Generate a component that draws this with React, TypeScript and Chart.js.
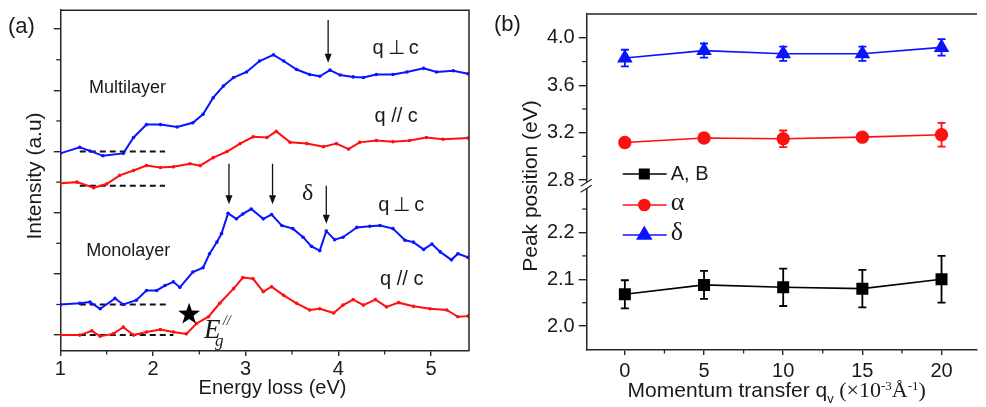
import React, { useEffect, useRef } from 'react';
import { Chart, registerables } from 'chart.js';

Chart.register(...registerables);

const SANS = '"Liberation Sans", Arial, sans-serif';
const SERIF = '"Liberation Serif", "Times New Roman", serif';
const AXIS = '#262626';
const TEXT = '#1a1a1a';
const BLUE = '#0a14ff';
const RED = '#ff1010';

// ---------------- Panel (a): EELS spectra ----------------
const mlPerpE = [1.00, 1.21, 1.32, 1.46, 1.68, 1.79, 1.93, 2.08, 2.26, 2.43, 2.54, 2.65, 2.76, 2.87, 3.01, 3.15, 3.30, 3.41, 3.55, 3.69, 3.80, 3.91, 4.02, 4.16, 4.27, 4.41, 4.59, 4.74, 4.92, 5.06, 5.24, 5.40];
const mlPerpI = [2.97, 3.07, 3.01, 2.93, 2.97, 3.23, 3.44, 3.44, 3.40, 3.47, 3.61, 3.88, 4.07, 4.21, 4.30, 4.48, 4.58, 4.48, 4.34, 4.26, 4.23, 4.33, 4.25, 4.22, 4.21, 4.26, 4.26, 4.30, 4.36, 4.30, 4.32, 4.27];

const mlParE = [1.00, 1.18, 1.36, 1.50, 1.64, 1.79, 1.93, 2.08, 2.22, 2.40, 2.51, 2.65, 2.80, 2.94, 3.08, 3.23, 3.33, 3.48, 3.66, 3.84, 3.98, 4.11, 4.23, 4.41, 4.59, 4.77, 4.95, 5.13, 5.40];
const mlParI = [2.48, 2.50, 2.41, 2.47, 2.61, 2.69, 2.77, 2.74, 2.75, 2.80, 2.77, 2.90, 3.00, 3.13, 3.24, 3.23, 3.33, 3.15, 3.13, 3.08, 3.13, 3.04, 3.15, 3.18, 3.16, 3.18, 3.23, 3.20, 3.22];

const monoPerpE = [1.00, 1.21, 1.32, 1.43, 1.59, 1.68, 1.82, 1.93, 2.04, 2.13, 2.22, 2.29, 2.43, 2.54, 2.61, 2.69, 2.74, 2.81, 2.90, 2.97, 3.06, 3.19, 3.28, 3.39, 3.51, 3.62, 3.71, 3.80, 3.87, 3.96, 4.05, 4.20, 4.34, 4.45, 4.59, 4.72, 4.81, 4.92, 5.01, 5.10, 5.22, 5.29, 5.40];
const monoPerpI = [0.50, 0.52, 0.54, 0.43, 0.60, 0.50, 0.57, 0.73, 0.73, 0.81, 0.87, 0.78, 1.03, 1.10, 1.33, 1.52, 1.66, 1.99, 1.90, 1.98, 2.06, 1.90, 1.97, 1.79, 1.74, 1.60, 1.45, 1.38, 1.70, 1.56, 1.60, 1.76, 1.78, 1.79, 1.74, 1.55, 1.52, 1.40, 1.49, 1.36, 1.23, 1.33, 1.27];

const monoParE = [1.00, 1.21, 1.34, 1.43, 1.57, 1.68, 1.79, 1.93, 2.08, 2.22, 2.36, 2.47, 2.60, 2.72, 2.87, 2.97, 3.08, 3.19, 3.28, 3.41, 3.55, 3.69, 3.80, 3.95, 4.05, 4.16, 4.27, 4.40, 4.52, 4.65, 4.81, 4.99, 5.17, 5.29, 5.40];
const monoParI = [0.00, 0.00, 0.07, -0.02, 0.02, 0.13, 0.00, 0.05, 0.09, 0.05, 0.02, 0.19, 0.30, 0.52, 0.76, 0.94, 0.92, 0.71, 0.79, 0.65, 0.52, 0.41, 0.43, 0.36, 0.49, 0.58, 0.49, 0.58, 0.46, 0.53, 0.47, 0.43, 0.41, 0.30, 0.31];

// dashed baselines (start energy, end energies, levels)
const baselineStart = 1.21;
const baselineEnds = [2.13, 2.13, 2.18, 2.22];
const baselineLevels = [3.0, 2.44, 0.5, 0.0];

// peak arrows
const arrowE = [3.89, 2.82, 3.29, 3.87];
const arrowFrom = [5.15, 2.80, 2.80, 2.44];
const arrowTo = [4.45, 2.14, 2.14, 1.82];

const energyTicks = [1, 2, 3, 4, 5];
const energyMinor = [1.5, 2.5, 3.5, 4.5];
const intensityTicks = [0, 1, 2, 3, 4, 5];
const intensityMinor = [0.5, 1.5, 2.5, 3.5, 4.5];

// ---------------- Panel (b): peak positions ----------------
const qValues = [0, 5, 10, 15, 20];
const peakAB = [2.068, 2.088, 2.083, 2.080, 2.100];
const errAB = [0.03, 0.03, 0.04, 0.04, 0.05];
const peakAlpha = [3.117, 3.155, 3.148, 3.162, 3.182];
const errAlpha = [0.02, 0.02, 0.07, 0.02, 0.10];
const peakDelta = [3.83, 3.893, 3.866, 3.866, 3.92];
const errDelta = [0.07, 0.06, 0.06, 0.06, 0.07];

const qTicks = [0, 5, 10, 15, 20];
const qMinor = [2.5, 7.5, 12.5, 17.5];
const upperTicks = [2.8, 3.2, 3.6, 4.0];
const upperMinor = [3.0, 3.4, 3.8];
const lowerTicks = [2.0, 2.1, 2.2];
const lowerMinor = [2.05, 2.15, 2.25];

const seriesNames = ['A, B', 'α', 'δ'];

const pts = (xs: number[], ys: number[]) => xs.map((x, i) => ({ x, y: ys[i] }));

function drawStar(ctx: CanvasRenderingContext2D, cx: number, cy: number, R: number, r: number) {
  ctx.beginPath();
  for (let i = 0; i < 10; i++) {
    const ang = -Math.PI / 2 + (i * Math.PI) / 5;
    const rad = i % 2 === 0 ? R : r;
    const px = cx + rad * Math.cos(ang);
    const py = cy + rad * Math.sin(ang);
    if (i === 0) ctx.moveTo(px, py);
    else ctx.lineTo(px, py);
  }
  ctx.closePath();
  ctx.fill();
}

function drawArrow(ctx: CanvasRenderingContext2D, px: number, y1: number, y2: number) {
  ctx.strokeStyle = '#111';
  ctx.fillStyle = '#111';
  ctx.lineWidth = 1.3;
  ctx.beginPath();
  ctx.moveTo(px, y1);
  ctx.lineTo(px, y2 - 6);
  ctx.stroke();
  ctx.beginPath();
  ctx.moveTo(px, y2);
  ctx.lineTo(px - 3.5, y2 - 9);
  ctx.lineTo(px + 3.5, y2 - 9);
  ctx.closePath();
  ctx.fill();
}

function drawMarker(ctx: CanvasRenderingContext2D, style: string, cx: number, cy: number, color: string) {
  ctx.fillStyle = color;
  ctx.beginPath();
  if (style === 'rect') {
    ctx.rect(cx - 5.5, cy - 5.5, 11, 11);
  } else if (style === 'circle') {
    ctx.arc(cx, cy, 6.3, 0, Math.PI * 2);
  } else {
    const r = 9.5;
    ctx.moveTo(cx, cy - r);
    ctx.lineTo(cx + r * 0.866, cy + r / 2);
    ctx.lineTo(cx - r * 0.866, cy + r / 2);
    ctx.closePath();
  }
  ctx.fill();
}

const panelAPlugin = {
  id: 'panelAExtras',
  afterDraw(chart: any) {
    const { ctx, chartArea: ca, scales } = chart;
    const x = scales.x;
    const y = scales.y;
    ctx.save();
    // box
    ctx.strokeStyle = AXIS;
    ctx.lineWidth = 1.5;
    ctx.beginPath();
    ctx.moveTo(ca.left, ca.top);
    ctx.lineTo(ca.right, ca.top);
    ctx.lineTo(ca.right, ca.bottom);
    ctx.stroke();
    // minor ticks
    ctx.lineWidth = 1.3;
    energyMinor.forEach((v) => {
      const px = x.getPixelForValue(v);
      ctx.beginPath();
      ctx.moveTo(px, ca.bottom);
      ctx.lineTo(px, ca.bottom + 3.5);
      ctx.stroke();
    });
    intensityMinor.forEach((v) => {
      const py = y.getPixelForValue(v);
      ctx.beginPath();
      ctx.moveTo(ca.left, py);
      ctx.lineTo(ca.left - 4, py);
      ctx.stroke();
    });
    // arrows
    arrowE.forEach((e, i) => drawArrow(ctx, x.getPixelForValue(e), y.getPixelForValue(arrowFrom[i]), y.getPixelForValue(arrowTo[i])));

    // text labels
    ctx.fillStyle = TEXT;
    ctx.textBaseline = 'middle';
    ctx.textAlign = 'left';
    const label = (t: string, e: number, v: number, font: string) => {
      ctx.font = font;
      ctx.fillText(t, x.getPixelForValue(e), y.getPixelForValue(v));
    };
    label('Multilayer', 1.31, 4.04, `18px ${SANS}`);
    label('Monolayer', 1.28, 1.38, `18px ${SANS}`);
    label('q\u2009\u22A5\u2009c', 4.37, 4.69, `20px ${SANS}`);
    label('q // c', 4.39, 3.58, `20px ${SANS}`);
    label('q\u2009\u22A5\u2009c', 4.43, 2.12, `20px ${SANS}`);
    label('q // c', 4.45, 0.91, `20px ${SANS}`);
    ctx.textAlign = 'center';
    label('δ', 3.67, 2.31, `24px ${SERIF}`);

    // star marking the gap
    ctx.fillStyle = '#000';
    drawStar(ctx, x.getPixelForValue(2.39), y.getPixelForValue(0.34), 11.5, 4.6);

    // E_g^//
    ctx.fillStyle = TEXT;
    ctx.textAlign = 'left';
    ctx.textBaseline = 'alphabetic';
    const ex = x.getPixelForValue(2.55);
    const ey = y.getPixelForValue(-0.05);
    ctx.font = `italic 27px ${SERIF}`;
    ctx.fillText('E', ex, ey);
    ctx.font = `italic 14px ${SERIF}`;
    ctx.fillText('//', ex + 19, ey - 13);
    ctx.font = `italic 17px ${SERIF}`;
    ctx.fillText('g', ex + 11, ey + 8);

    // titles
    ctx.textBaseline = 'middle';
    ctx.textAlign = 'center';
    ctx.font = `20px ${SANS}`;
    ctx.fillText('Energy loss (eV)', 272.5, 388);
    ctx.save();
    ctx.translate(35.7, 176);
    ctx.rotate(-Math.PI / 2);
    ctx.font = `21px ${SANS}`;
    ctx.fillText('Intensity (a.u)', 0, 0);
    ctx.restore();
    ctx.font = `22px ${SANS}`;
    ctx.textAlign = 'left';
    ctx.fillText('(a)', 8, 27);
    ctx.restore();
  },
};

const panelBPlugin = {
  id: 'panelBExtras',
  beforeDatasetsDraw(chart: any) {
    const { ctx, scales } = chart;
    const x = scales.x;
    const sets: [number[], number[], string, string][] = [
      [peakAB, errAB, 'yLow', '#000'],
      [peakAlpha, errAlpha, 'yUp', RED],
      [peakDelta, errDelta, 'yUp', BLUE],
    ];
    ctx.save();
    ctx.lineWidth = 1.8;
    sets.forEach(([vals, errs, axis, color]) => {
      const ys = scales[axis];
      ctx.strokeStyle = color;
      vals.forEach((v, i) => {
        const px = x.getPixelForValue(qValues[i]);
        const top = ys.getPixelForValue(v + errs[i]);
        const bot = ys.getPixelForValue(v - errs[i]);
        ctx.beginPath();
        ctx.moveTo(px, top);
        ctx.lineTo(px, bot);
        ctx.moveTo(px - 4, top);
        ctx.lineTo(px + 4, top);
        ctx.moveTo(px - 4, bot);
        ctx.lineTo(px + 4, bot);
        ctx.stroke();
      });
    });
    ctx.restore();
  },
  afterDraw(chart: any) {
    const { ctx, chartArea: ca, scales } = chart;
    const x = scales.x;
    const yUp = scales.yUp;
    const yLow = scales.yLow;
    ctx.save();
    ctx.strokeStyle = AXIS;
    ctx.lineWidth = 1.5;
    ctx.beginPath();
    ctx.moveTo(ca.left, ca.top);
    ctx.lineTo(ca.right, ca.top);
    ctx.stroke();
    // minor ticks
    ctx.lineWidth = 1.3;
    qMinor.forEach((v) => {
      const px = x.getPixelForValue(v);
      ctx.beginPath();
      ctx.moveTo(px, ca.bottom);
      ctx.lineTo(px, ca.bottom + 3.5);
      ctx.stroke();
    });
    const minorY = (scale: any, vals: number[]) =>
      vals.forEach((v) => {
        const py = scale.getPixelForValue(v);
        ctx.beginPath();
        ctx.moveTo(ca.left, py);
        ctx.lineTo(ca.left - 4.5, py);
        ctx.stroke();
      });
    minorY(yUp, upperMinor);
    minorY(yLow, lowerMinor);

    // axis break mark
    const yb = yUp.bottom;
    ctx.fillStyle = '#fff';
    ctx.beginPath();
    ctx.moveTo(ca.left - 6, yb + 3);
    ctx.lineTo(ca.left + 5, yb - 4);
    ctx.lineTo(ca.left + 5, yb + 2);
    ctx.lineTo(ca.left - 6, yb + 9);
    ctx.closePath();
    ctx.fill();
    ctx.strokeStyle = AXIS;
    ctx.lineWidth = 1.2;
    ctx.beginPath();
    ctx.moveTo(ca.left - 6, yb + 3);
    ctx.lineTo(ca.left + 5, yb - 4);
    ctx.moveTo(ca.left - 6, yb + 9);
    ctx.lineTo(ca.left + 5, yb + 2);
    ctx.stroke();

    // legend
    const colors = ['#000', RED, BLUE];
    const styles = ['rect', 'circle', 'triangle'];
    const rowY = [174, 205, 235];
    const fonts = [`20px ${SANS}`, `26px ${SERIF}`, `26px ${SERIF}`];
    seriesNames.forEach((name, i) => {
      const y0 = rowY[i];
      ctx.strokeStyle = colors[i];
      ctx.lineWidth = 1.6;
      ctx.beginPath();
      ctx.moveTo(ca.left + 36, y0);
      ctx.lineTo(ca.left + 80, y0);
      ctx.stroke();
      drawMarker(ctx, styles[i], ca.left + 57.6, y0, colors[i]);
      ctx.fillStyle = TEXT;
      ctx.font = fonts[i];
      ctx.textAlign = 'left';
      ctx.textBaseline = 'middle';
      ctx.fillText(name, ca.left + 84, i === 0 ? y0 : y0 - 2);
    });

    // titles
    ctx.fillStyle = TEXT;
    ctx.save();
    ctx.translate(41.7, 186);
    ctx.rotate(-Math.PI / 2);
    ctx.font = `21px ${SANS}`;
    ctx.textAlign = 'center';
    ctx.textBaseline = 'middle';
    ctx.fillText('Peak position (eV)', 0, 0);
    ctx.restore();

    ctx.font = `22px ${SANS}`;
    ctx.textAlign = 'left';
    ctx.textBaseline = 'middle';
    ctx.fillText('(b)', 4, 25);

    // x title with mixed fonts
    const parts: [string, string, number][] = [
      ['Momentum transfer q', `21px ${SANS}`, 0],
      ['v', `13px ${SANS}`, 6],
      [' (\u00D7', `22px ${SERIF}`, 0],
      ['10', `22px ${SERIF}`, 0],
      ['-3', `13px ${SERIF}`, -7],
      ['Å', `22px ${SERIF}`, 0],
      ['-1', `13px ${SERIF}`, -7],
      [')', `22px ${SERIF}`, 0],
    ];
    let total = 0;
    parts.forEach(([t, f]) => {
      ctx.font = f;
      total += ctx.measureText(t).width;
    });
    let cx = 286.7 - total / 2;
    ctx.textBaseline = 'alphabetic';
    parts.forEach(([t, f, dy]) => {
      ctx.font = f;
      ctx.fillText(t, cx, 397 + dy);
      cx += ctx.measureText(t).width;
    });
    ctx.restore();
  },
};

function makeChartA(canvas: HTMLCanvasElement) {
  const curve = (xs: number[], ys: number[], color: string) => ({
    data: pts(xs, ys),
    borderColor: color,
    backgroundColor: color,
    borderWidth: 2,
    pointRadius: 1.8,
    pointBorderWidth: 0,
    pointHoverRadius: 0,
    tension: 0,
  });
  const dashed = baselineLevels.map((lvl, i) => ({
    data: [
      { x: baselineStart, y: lvl },
      { x: baselineEnds[i], y: lvl },
    ],
    borderColor: '#111',
    borderWidth: 2,
    borderDash: [6, 4],
    pointRadius: 0,
  }));
  return new Chart(canvas, {
    type: 'line',
    data: {
      datasets: [
        curve(mlPerpE, mlPerpI, BLUE),
        curve(mlParE, mlParI, RED),
        curve(monoPerpE, monoPerpI, BLUE),
        curve(monoParE, monoParI, RED),
        ...dashed,
      ] as any,
    },
    options: {
      animation: false,
      responsive: false,
      maintainAspectRatio: false,
      layout: { padding: { top: 9, right: 21, bottom: 0, left: 0 } },
      plugins: { legend: { display: false }, tooltip: { enabled: false } },
      scales: {
        x: {
          type: 'linear',
          min: 1,
          max: 5.41,
          afterBuildTicks: (s: any) => {
            s.ticks = energyTicks.map((v) => ({ value: v }));
          },
          afterFit: (s: any) => {
            s.height = 56;
          },
          grid: { drawOnChartArea: false, drawTicks: true, tickLength: 5, color: AXIS, lineWidth: 1.4 },
          border: { display: true, color: AXIS, width: 1.5 },
          ticks: { font: { family: SANS, size: 20, lineHeight: 1 }, color: TEXT, padding: 3, maxRotation: 0, autoSkip: false },
        },
        y: {
          type: 'linear',
          min: -0.26,
          max: 5.31,
          afterBuildTicks: (s: any) => {
            s.ticks = intensityTicks.map((v) => ({ value: v }));
          },
          afterFit: (s: any) => {
            s.width = 60.3;
          },
          grid: { drawOnChartArea: false, drawTicks: true, tickLength: 6.5, color: AXIS, lineWidth: 1.4 },
          border: { display: true, color: AXIS, width: 1.5 },
          ticks: { callback: () => '' },
        },
      },
    } as any,
    plugins: [panelAPlugin],
  });
}

function makeChartB(canvas: HTMLCanvasElement) {
  const series = (vals: number[], axis: string, color: string, style: string, radius: number) => ({
    data: pts(qValues, vals),
    yAxisID: axis,
    borderColor: color,
    backgroundColor: color,
    borderWidth: 1.6,
    pointStyle: style,
    pointRadius: radius,
    pointBorderWidth: 0,
    pointHoverRadius: radius,
    tension: 0,
  });
  const tickFont = { family: SANS, size: 20, lineHeight: 1 };
  return new Chart(canvas, {
    type: 'line',
    data: {
      datasets: [
        series(peakAB, 'yLow', '#000', 'rect', 8.5),
        series(peakAlpha, 'yUp', RED, 'circle', 6.7),
        series(peakDelta, 'yUp', BLUE, 'triangle', 9),
      ] as any,
    },
    options: {
      animation: false,
      responsive: false,
      maintainAspectRatio: false,
      layout: { padding: { top: 7.3, right: 0, bottom: 0, left: 0 } },
      plugins: { legend: { display: false }, tooltip: { enabled: false } },
      scales: {
        x: {
          type: 'linear',
          min: -2.41,
          max: 22.24,
          afterBuildTicks: (s: any) => {
            s.ticks = qTicks.map((v) => ({ value: v }));
          },
          afterFit: (s: any) => {
            s.height = 57;
          },
          grid: { drawOnChartArea: false, drawTicks: true, tickLength: 5, color: AXIS, lineWidth: 1.4 },
          border: { display: true, color: AXIS, width: 1.5 },
          ticks: { font: tickFont, color: TEXT, padding: 6, maxRotation: 0, autoSkip: false },
        },
        yLow: {
          type: 'linear',
          position: 'left',
          stack: 'peak',
          stackWeight: 170,
          min: 1.949,
          max: 2.305,
          afterBuildTicks: (s: any) => {
            s.ticks = lowerTicks.map((v) => ({ value: v }));
          },
          afterFit: (s: any) => {
            s.width = 96.7;
          },
          grid: { drawOnChartArea: false, drawTicks: true, tickLength: 8, color: AXIS, lineWidth: 1.4 },
          border: { display: true, color: AXIS, width: 1.5 },
          ticks: { font: tickFont, color: TEXT, padding: 4, callback: (v: number) => v.toFixed(1) },
        },
        yUp: {
          type: 'linear',
          position: 'left',
          stack: 'peak',
          stackWeight: 172.7,
          min: 2.772,
          max: 4.202,
          afterBuildTicks: (s: any) => {
            s.ticks = upperTicks.map((v) => ({ value: v }));
          },
          afterFit: (s: any) => {
            s.width = 96.7;
          },
          grid: { drawOnChartArea: false, drawTicks: true, tickLength: 8, color: AXIS, lineWidth: 1.4 },
          border: { display: true, color: AXIS, width: 1.5 },
          ticks: { font: tickFont, color: TEXT, padding: 4, callback: (v: number) => v.toFixed(1) },
        },
      },
    } as any,
    plugins: [panelBPlugin],
  });
}

export default function App() {
  const refA = useRef<HTMLCanvasElement>(null);
  const refB = useRef<HTMLCanvasElement>(null);
  useEffect(() => {
    const a = makeChartA(refA.current!);
    const b = makeChartB(refB.current!);
    return () => {
      a.destroy();
      b.destroy();
    };
  }, []);
  return (
    <div style={{ position: 'absolute', left: 0, top: 0, width: 986, height: 407, background: '#fff', overflow: 'hidden' }}>
      <canvas ref={refA} width={490} height={407} style={{ position: 'absolute', left: 0, top: 0, width: 490, height: 407 }} />
      <canvas ref={refB} width={496} height={407} style={{ position: 'absolute', left: 490, top: 0, width: 496, height: 407 }} />
    </div>
  );
}
